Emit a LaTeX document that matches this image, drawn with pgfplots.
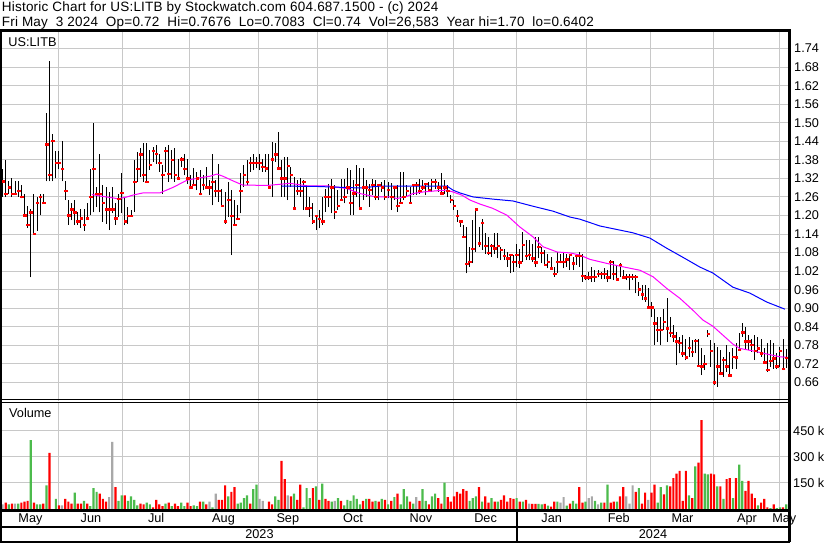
\documentclass[border=0pt]{standalone}
\usepackage{fontspec}
\setmainfont{Liberation Sans}
\newfontfamily\hdrfont{Liberation Sans}[LetterSpace=1.6]
\usepackage{pgfplots}
\usepackage{pgfplotstable}
\pgfplotsset{compat=1.18}
\definecolor{gridc}{RGB}{200,200,200}
\definecolor{vgreen}{RGB}{76,187,76}
\definecolor{vred}{RGB}{255,0,0}
\definecolor{vgray}{RGB}{168,168,168}
\definecolor{magc}{RGB}{255,0,255}
\definecolor{bluc}{RGB}{0,0,255}
\newcommand\tf{\fontsize{12.7bp}{15bp}\selectfont}
\newcommand\hf{\hdrfont\fontsize{13.5bp}{16bp}\selectfont}

\pgfplotstableread{
i H L C
0 1.35 1.26 1.31
1 1.38 1.26 1.27
2 1.31 1.27 1.29
3 1.32 1.26 1.27
4 1.31 1.27 1.27
5 1.31 1.26 1.28
6 1.30 1.255 1.26
7 1.27 1.20 1.20
8 1.23 1.16 1.17
9 1.22 1.00 1.21
10 1.27 1.14 1.14
11 1.26 1.15 1.24
12 1.27 1.20 1.26
13 1.27 1.24 1.24
14 1.53 1.31 1.43
15 1.70 1.31 1.33
16 1.465 1.31 1.44
17 1.41 1.32 1.37
18 1.41 1.35 1.37
19 1.44 1.31 1.35
20 1.31 1.25 1.28
21 1.25 1.17 1.20
22 1.24 1.185 1.22
23 1.25 1.17 1.21
24 1.21 1.17 1.18
25 1.22 1.16 1.19
26 1.22 1.15 1.17
27 1.24 1.185 1.19
28 1.35 1.20 1.26
29 1.50 1.21 1.35
30 1.293 1.228 1.27
31 1.40 1.21 1.27
32 1.30 1.18 1.24
33 1.293 1.174 1.22
34 1.277 1.153 1.22
35 1.293 1.207 1.22
36 1.24 1.17 1.19
37 1.27 1.196 1.254
38 1.338 1.207 1.273
39 1.255 1.169 1.18
40 1.228 1.174 1.198
41 1.217 1.196 1.198
42 1.379 1.212 1.309
43 1.406 1.309 1.35
44 1.417 1.325 1.397
45 1.433 1.309 1.33
46 1.433 1.309 1.309
47 1.411 1.347 1.363
48 1.422 1.374 1.409
49 1.427 1.368 1.398
50 1.40 1.341 1.37
51 1.363 1.271 1.331
52 1.422 1.341 1.409
53 1.427 1.309 1.334
54 1.411 1.319 1.379
55 1.417 1.309 1.331
56 1.384 1.314 1.319
57 1.39 1.357 1.381
58 1.40 1.33 1.35
59 1.384 1.303 1.319
60 1.33 1.287 1.29
61 1.352 1.298 1.299
62 1.341 1.282 1.319
63 1.347 1.265 1.269
64 1.33 1.282 1.298
65 1.357 1.287 1.29
66 1.314 1.266 1.29
67 1.40 1.233 1.309
68 1.314 1.26 1.28
69 1.368 1.244 1.28
70 1.287 1.228 1.23
71 1.277 1.174 1.18
72 1.309 1.196 1.25
73 1.282 1.072 1.198
74 1.25 1.169 1.169
75 1.233 1.185 1.189
76 1.336 1.207 1.28
77 1.363 1.293 1.331
78 1.379 1.298 1.309
79 1.39 1.341 1.37
80 1.40 1.347 1.37
81 1.39 1.352 1.37
82 1.40 1.347 1.37
83 1.384 1.341 1.357
84 1.40 1.341 1.352
85 1.40 1.287 1.29
86 1.438 1.26 1.381
87 1.433 1.374 1.397
88 1.471 1.347 1.352
89 1.381 1.26 1.319
90 1.39 1.26 1.319
91 1.39 1.25 1.36
92 1.357 1.293 1.33
93 1.325 1.217 1.222
94 1.314 1.266 1.28
95 1.32 1.26 1.28
96 1.314 1.217 1.309
97 1.298 1.217 1.222
98 1.26 1.196 1.225
99 1.239 1.174 1.18
100 1.201 1.153 1.198
101 1.217 1.158 1.189
102 1.26 1.169 1.18
103 1.287 1.212 1.26
104 1.303 1.228 1.26
105 1.319 1.207 1.29
106 1.298 1.19 1.212
107 1.282 1.217 1.23
108 1.319 1.25 1.25
109 1.319 1.239 1.26
110 1.352 1.271 1.29
111 1.347 1.201 1.241
112 1.314 1.201 1.271
113 1.363 1.26 1.298
114 1.352 1.217 1.222
115 1.352 1.25 1.29
116 1.314 1.26 1.29
117 1.303 1.228 1.282
118 1.319 1.266 1.298
119 1.314 1.25 1.26
120 1.298 1.25 1.298
121 1.309 1.277 1.29
122 1.314 1.25 1.26
123 1.309 1.255 1.282
124 1.306 1.217 1.26
125 1.295 1.25 1.29
126 1.298 1.212 1.23
127 1.341 1.239 1.241
128 1.341 1.25 1.26
129 1.298 1.26 1.28
130 1.293 1.239 1.241
131 1.303 1.266 1.298
132 1.309 1.266 1.298
133 1.319 1.271 1.28
134 1.314 1.282 1.29
135 1.306 1.266 1.301
136 1.309 1.277 1.282
137 1.319 1.277 1.309
138 1.319 1.287 1.309
139 1.309 1.277 1.29
140 1.336 1.266 1.271
141 1.314 1.271 1.29
142 1.298 1.26 1.28
143 1.266 1.239 1.25
144 1.25 1.217 1.23
145 1.217 1.18 1.198
146 1.185 1.163 1.18
147 1.169 1.131 1.131
148 1.163 1.013 1.043
149 1.099 1.034 1.05
150 1.185 1.045 1.091
151 1.223 1.083 1.22
152 1.163 1.099 1.109
153 1.19 1.088 1.176
154 1.142 1.077 1.101
155 1.131 1.072 1.079
156 1.109 1.066 1.101
157 1.142 1.077 1.093
158 1.142 1.061 1.101
159 1.099 1.056 1.088
160 1.093 1.056 1.069
161 1.082 1.034 1.061
162 1.077 1.013 1.072
163 1.072 1.018 1.05
164 1.109 1.034 1.072
165 1.093 1.029 1.048
166 1.147 1.05 1.104
167 1.12 1.056 1.069
168 1.12 1.056 1.072
169 1.109 1.05 1.061
170 1.131 1.034 1.048
171 1.131 1.061 1.099
172 1.099 1.045 1.079
173 1.088 1.038 1.04
174 1.077 1.029 1.05
175 1.066 1.029 1.029
176 1.034 1.002 1.01
177 1.082 1.013 1.05
178 1.077 1.045 1.05
179 1.082 1.029 1.05
180 1.077 1.034 1.058
181 1.077 1.023 1.072
182 1.066 1.023 1.045
183 1.077 1.04 1.069
184 1.082 1.034 1.068
185 1.077 0.985 1.004
186 1.007 0.991 0.999
187 1.018 0.991 0.999
188 1.034 0.985 1.002
189 1.023 0.985 1.002
190 1.023 1.002 1.010
191 1.018 0.996 1.010
192 1.029 0.996 1.010
193 1.023 0.985 0.999
194 1.056 0.996 1.050
195 1.053 0.991 1.010
196 1.039 0.991 0.993
197 1.047 1.002 1.039
198 1.023 0.996 0.999
199 1.012 0.991 1.002
200 1.012 0.958 1.002
201 1.012 0.991 1.002
202 1.007 0.948 1.002
203 0.985 0.94 0.96
204 0.975 0.926 0.945
205 0.975 0.921 0.932
206 0.964 0.899 0.903
207 0.921 0.872 0.903
208 0.899 0.781 0.851
209 0.872 0.792 0.829
210 0.872 0.781 0.829
211 0.899 0.829 0.856
212 0.932 0.792 0.835
213 0.872 0.808 0.819
214 0.845 0.792 0.808
215 0.824 0.716 0.792
216 0.808 0.754 0.788
217 0.813 0.743 0.754
218 0.802 0.732 0.741
219 0.808 0.743 0.772
220 0.797 0.743 0.759
221 0.802 0.754 0.795
222 0.802 0.711 0.714
223 0.770 0.684 0.711
224 0.748 0.700 0.719
225 0.829 0.808 0.816
226 0.797 0.711 0.762
227 0.786 0.651 0.660
228 0.775 0.646 0.711
229 0.765 0.684 0.689
230 0.743 0.678 0.732
231 0.781 0.695 0.711
232 0.759 0.678 0.682
233 0.770 0.705 0.743
234 0.786 0.705 0.741
235 0.819 0.765 0.765
236 0.851 0.808 0.822
237 0.840 0.765 0.792
238 0.813 0.765 0.792
239 0.802 0.759 0.781
240 0.813 0.732 0.761
241 0.808 0.754 0.770
242 0.802 0.743 0.754
243 0.770 0.722 0.724
244 0.786 0.695 0.700
245 0.797 0.711 0.730
246 0.786 0.705 0.738
247 0.754 0.705 0.711
248 0.775 0.711 0.762
249 0.802 0.700 0.703
250 0.7676 0.7083 0.74
}\price

\begin{document}
\begin{tikzpicture}[x=1bp,y=1bp]
\fill[white] (0,0) rectangle (830,543);
\useasboundingbox (0,0) rectangle (830,543);

% ---------------- price pane ----------------
\begin{axis}[
  at={(2bp,142bp)}, anchor=south west, scale only axis,
  width=787bp, height=371bp,
  xmin=-0.18, xmax=250.9, ymin=0.6, ymax=1.8,
  axis line style={draw=none}, major tick length=0pt,
  xtick={18,38.4,59.5,81.5,100.6,122.9,144,164.1,186.4,206.8,226.9,248},
  xticklabels={},
  ytick={0.66,0.72,0.78,0.84,0.90,0.96,1.02,1.08,1.14,1.20,1.26,1.32,1.38,1.44,1.50,1.56,1.62,1.68,1.74},
  yticklabels={0.66,0.72,0.78,0.84,0.90,0.96,1.02,1.08,1.14,1.20,1.26,1.32,1.38,1.44,1.50,1.56,1.62,1.68,1.74},
  yticklabel pos=right,
  yticklabel style={anchor=west, inner sep=0pt, xshift=5bp, font=\tf},
  xmajorgrids, ymajorgrids,
  grid style={gridc, line width=1bp},
]
\addplot[draw=none, mark=none,
  error bars/.cd, y dir=plus, y explicit, error mark=none,
  error bar style={draw=black, solid, line width=1bp}]
  table[x=i, y=L, y error expr=\thisrow{H}-\thisrow{L}] {\price};
\addplot[only marks, mark=-, mark size=1.8bp, mark options={draw=vred, line width=2.4bp, xshift=0.5bp}]
  table[x=i, y=C] {\price};
\addplot[magc, line width=1bp, mark=none] coordinates {
(28.5,1.268) (31.1,1.263) (35.2,1.257) (36.8,1.254) (39.7,1.260) (41.6,1.266) (44.8,1.273) (50.2,1.273) (54.4,1.291) (58.8,1.314) (63.0,1.322) (66.2,1.327) (68.4,1.334) (70.3,1.327) (73.5,1.312) (76.7,1.298) (79.9,1.298) (84.3,1.297) (87.5,1.300) (91.7,1.304) (97.1,1.296) (103.5,1.296) (109.9,1.287) (114.0,1.271) (118.2,1.262) (120.4,1.260) (123.6,1.260) (125.8,1.255) (129.0,1.262) (130.9,1.271) (134.1,1.276) (138.6,1.280) (141.7,1.282) (143.7,1.276) (146.5,1.266) (149.1,1.250) (152.3,1.237) (156.4,1.223) (160.9,1.201) (165.0,1.163) (169.2,1.131) (172.4,1.099) (176.9,1.082) (181.0,1.079) (184.2,1.072) (187.4,1.058) (192.8,1.045) (197.9,1.034) (203.3,1.023) (207.5,1.002) (211.9,0.964) (216.1,0.932) (220.2,0.894) (223.4,0.862) (226.6,0.842) (229.8,0.813) (233.0,0.784) (235.2,0.770) (239.4,0.762) (243.8,0.752) (248.0,0.743) (250.5,0.741)};
\addplot[bluc, line width=1bp, mark=none] coordinates {
(89.1,1.295) (100,1.294) (114.0,1.289) (120.4,1.295) (141.8,1.295) (143.7,1.282) (145.9,1.273) (150.1,1.260) (156.4,1.253) (162.8,1.247) (169.2,1.230) (175.6,1.214) (181.0,1.195) (184.2,1.188) (190.6,1.166) (201.1,1.144) (206.5,1.127) (211.9,1.094) (217.0,1.065) (222.5,1.033) (226.6,1.014) (233.0,0.968) (238.4,0.949) (243.8,0.920) (249.6,0.897)};
\end{axis}

% ---------------- volume pane ----------------
\begin{axis}[
  at={(2bp,34bp)}, anchor=south west, scale only axis,
  width=787bp, height=106bp,
  xmin=-0.18, xmax=250.9, ymin=0, ymax=611.5,
  axis line style={draw=none}, major tick length=0pt,
  xtick={8.9,28.2,49.0,70.5,91.0,111.8,133.5,154.1,175.2,196.6,216.9,237.5,249.4},
  xticklabels={May,Jun,Jul,Aug,Sep,Oct,Nov,Dec,Jan,Feb,Mar,Apr,May},
  xticklabel style={anchor=base, inner sep=0pt, yshift=-14bp, font=\tf},
  extra x ticks={18,38.4,59.5,81.5,100.6,122.9,144,164.1,186.4,206.8,226.9,248},
  extra x tick labels={},
  extra x tick style={grid=major},
  ytick={150,300,450},
  yticklabels={150 k,300 k,450 k},
  yticklabel pos=right,
  yticklabel style={anchor=west, inner sep=0pt, xshift=4bp, font=\tf},
  ymajorgrids,
  grid style={gridc, line width=1bp},
]
\addplot[ybar, bar width=2.2bp, bar shift=0pt, fill=vgreen, draw=none] coordinates {
(2,26) (5,31) (9,398) (11,26) (12,26) (14,136) (17,58) (23,94) (26,47) (28,16) (29,120) (30,99) (37,47) (38,78) (40,47) (41,73) (42,52) (43,21) (46,37) (47,26) (52,31) (54,16) (57,37) (58,16) (61,21) (62,16) (64,42) (67,10) (72,73) (75,31) (76,37) (77,63) (78,78) (80,115) (81,141) (87,73) (88,52) (93,89) (96,10) (97,120) (98,63) (100,131) (102,146) (105,42) (107,63) (109,21) (110,52) (111,47) (112,78) (113,58) (114,26) (116,58) (119,47) (121,58) (123,26) (125,68) (127,26) (128,115) (129,73) (131,31) (134,115) (135,47) (137,73) (138,89) (141,152) (149,47) (150,63) (151,73) (153,42) (156,63) (158,42) (164,63) (166,42) (171,30) (172,26) (174,19) (177,42) (180,19) (182,47) (183,31) (186,42) (189,47) (191,37) (193,141) (196,42) (203,120) (209,37) (210,126) (212,136) (219,78) (221,246) (224,204) (225,199) (228,131) (230,58) (233,63) (235,256) (236,162) (241,21) (245,5) (247,5) (248,10) (250,26)};
\addplot[ybar, bar width=2.2bp, bar shift=0pt, fill=vred, draw=none] coordinates {
(1,37) (3,31) (6,37) (7,42) (8,47) (10,37) (13,31) (15,324) (18,21) (20,58) (21,42) (22,31) (24,31) (25,31) (27,31) (31,89) (32,58) (33,42) (36,126) (39,78) (44,31) (45,26) (48,10) (49,52) (50,26) (51,16) (53,37) (55,31) (56,16) (59,37) (60,16) (63,42) (65,26) (69,52) (70,52) (71,136) (73,99) (74,126) (79,31) (85,42) (86,26) (89,277) (90,173) (92,73) (94,52) (95,141) (99,120) (101,52) (103,58) (104,47) (108,47) (115,47) (117,58) (118,42) (120,42) (122,52) (124,47) (126,89) (130,42) (133,47) (136,26) (139,63) (140,31) (142,68) (143,42) (144,73) (145,99) (146,89) (147,115) (148,105) (152,126) (154,73) (155,37) (157,42) (159,52) (160,78) (161,42) (162,63) (163,58) (165,42) (167,52) (169,30) (170,30) (173,30) (175,14) (176,42) (181,31) (184,126) (185,37) (192,37) (194,37) (195,42) (197,73) (198,126) (202,99) (204,31) (205,94) (207,94) (208,141) (211,84) (213,131) (214,178) (215,204) (216,220) (217,47) (218,220) (220,63) (222,267) (223,513) (226,204) (227,199) (229,131) (231,173) (232,178) (234,178) (237,105) (238,162) (239,89) (240,63) (242,37) (243,58) (244,10) (246,26) (249,10)};
\addplot[ybar, bar width=2.2bp, bar shift=0pt, fill=vgray, draw=none] coordinates {
(0,26) (4,31) (19,21) (34,68) (35,387) (66,42) (68,89) (82,58) (83,47) (91,78) (106,47) (132,68) (168,31) (178,37) (179,68) (187,63) (188,73) (190,26) (199,73) (200,31) (201,136) (206,52)};
\end{axis}

% ---------------- frame ----------------
\draw[black, line width=2.5bp] (0,512.5) -- (790.5,512.5);
\draw[black, line width=2bp] (1,513) -- (1,1);
\draw[black, line width=2.4bp] (789.5,513) -- (789.5,1);
\draw[black, line width=1bp] (0,143) -- (790,143);
\draw[black, line width=1bp] (0,140.3) -- (790,140.3);
\draw[black, line width=2.7bp] (0,32.7) -- (790,32.7);
\draw[black, line width=2.4bp] (0,16.2) -- (790,16.2);
\draw[black, line width=2bp] (0,1.3) -- (790,1.3);
\draw[black, line width=2bp] (517,33) -- (517,1);

% ---------------- texts ----------------
\node[anchor=base west, inner sep=0pt, font=\hf] at (1.7,531.3) {Historic Chart for US:LITB by Stockwatch.com 604.687.1500 - (c) 2024};
\node[anchor=base west, inner sep=0pt, font=\hf] at (1.7,516.5) {Fri May\ \ 3 2024\ \ Op=0.72\ \ Hi=0.7676\ \ Lo=0.7083\ \ Cl=0.74\ \ Vol=26,583\ \ Year hi=1.70\ \ lo=0.6402};
\node[anchor=base west, inner sep=0pt, font=\tf] at (8.3,496.5) {US:LITB};
\node[anchor=base west, inner sep=0pt, font=\tf] at (9,125) {Volume};
\node[anchor=base, inner sep=0pt, font=\tf] at (259.5,4.5) {2023};
\node[anchor=base, inner sep=0pt, font=\tf] at (653,4.5) {2024};
\end{tikzpicture}
\end{document}
